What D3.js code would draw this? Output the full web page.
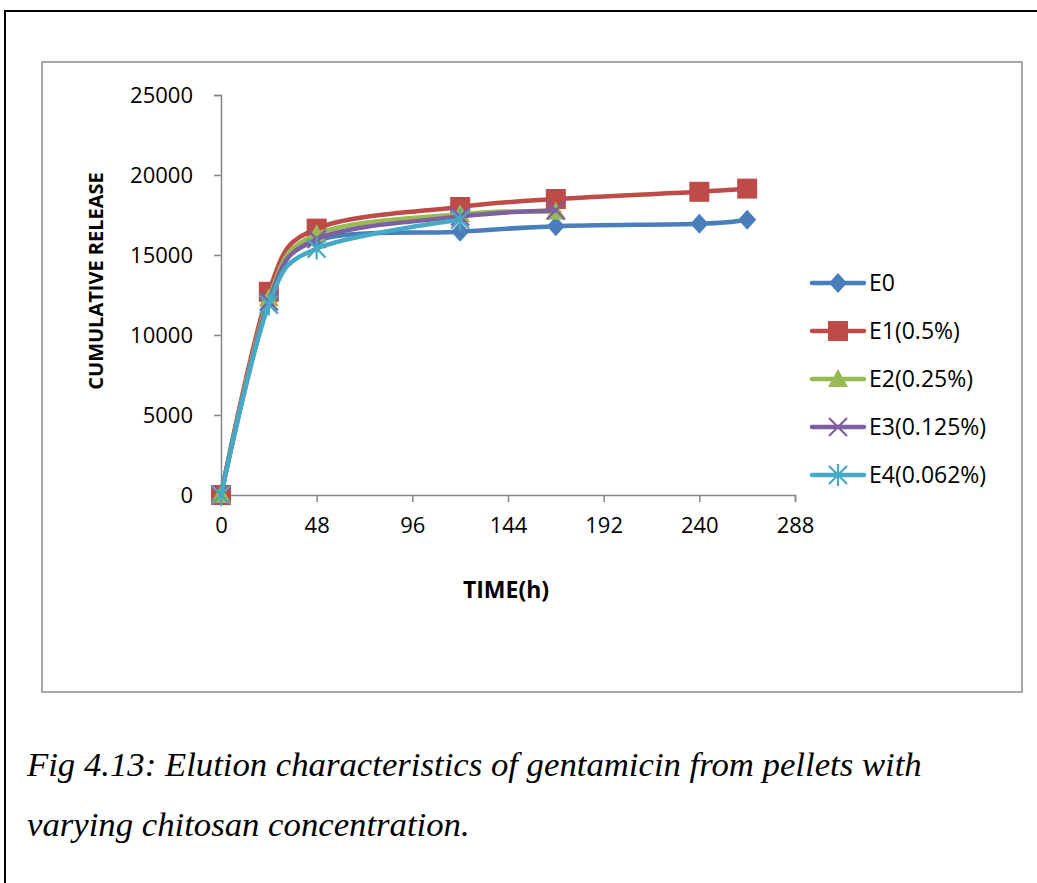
<!DOCTYPE html>
<html><head><meta charset="utf-8">
<script src="https://cdn.jsdelivr.net/npm/d3@7"></script>
<style>
html,body{margin:0;padding:0;background:#fff;}
svg{display:block;}
</style></head>
<body>
<svg id="chart" width="1037" height="883"></svg>
<script>
// ---- data ----
const seriesNames = ["E0", "E1(0.5%)", "E2(0.25%)", "E3(0.125%)", "E4(0.062%)"];
const timesE0 = [0, 24, 48, 120, 168, 240, 264];
const valuesE0 = [0, 12200, 15900, 16450, 16800, 16950, 17200];
const timesE1 = [0, 24, 48, 120, 168, 240, 264];
const valuesE1 = [0, 12700, 16650, 18000, 18500, 18950, 19150];
const timesE2 = [0, 24, 48, 120, 168];
const valuesE2 = [0, 12300, 16300, 17550, 17700];
const timesE3 = [0, 24, 48, 120, 168];
const valuesE3 = [0, 12100, 16000, 17400, 17800];
const timesE4 = [0, 24, 48, 120];
const valuesE4 = [0, 11900, 15400, 17200];
const xTicks = [0, 48, 96, 144, 192, 240, 288];
const yTicks = [0, 5000, 10000, 15000, 20000, 25000];
const colors = ["#4A7EBB", "#BE4B48", "#98B954", "#7D60A0", "#46AAC5"];
const markers = ["diamond", "square", "triangle", "x", "star"];
const xLabel = "TIME(h)";
const yLabel = "CUMULATIVE RELEASE";
const captionLines = ["Fig 4.13: Elution characteristics of gentamicin from pellets with",
                      "varying chitosan concentration."];

const series = [
  {t: timesE0, v: valuesE0}, {t: timesE1, v: valuesE1}, {t: timesE2, v: valuesE2},
  {t: timesE3, v: valuesE3}, {t: timesE4, v: valuesE4}
].map((s, i) => ({name: seriesNames[i], color: colors[i], marker: markers[i],
  pts: s.t.map((t, j) => ({t, v: s.v[j]}))}));

const svg = d3.select("#chart");
const font = "'Open Sans', 'Noto Sans', sans-serif";

// outer frame
svg.append("path").attr("d", "M5,900 L5,11 L1045,11")
  .attr("fill", "none").attr("stroke", "#000").attr("stroke-width", 2);
// chart box
svg.append("rect").attr("x", 42).attr("y", 62).attr("width", 980).attr("height", 630)
  .attr("fill", "#fff").attr("stroke", "#8c8c8c").attr("stroke-width", 1.5);

const x = d3.scaleLinear().domain([0, 288]).range([221, 795]);
const y = d3.scaleLinear().domain([0, 25000]).range([495, 95]);

// axes
const gx = svg.append("g").attr("transform", `translate(0,${y(0)})`)
  .call(d3.axisBottom(x).tickValues(xTicks).tickSize(7).tickPadding(15).tickFormat(d3.format("d")));
const gy = svg.append("g").attr("transform", `translate(${x(0)},0)`)
  .call(d3.axisLeft(y).tickValues(yTicks).tickSize(7).tickPadding(21).tickFormat(d3.format("d")));
[gx, gy].forEach(g => {
  g.select(".domain").attr("stroke", "#868686").attr("stroke-width", 1.5);
  g.selectAll(".tick line").attr("stroke", "#868686").attr("stroke-width", 1.5);
  g.selectAll(".tick text").attr("font-family", font).attr("font-size", 22).attr("fill", "#000");
});
gy.selectAll(".tick text").attr("dy", "0.36em");

// axis titles
svg.append("text").attr("x", 506).attr("y", 598).attr("text-anchor", "middle")
  .attr("font-family", font).attr("font-weight", "bold").attr("font-size", 23).text(xLabel);
svg.append("text").attr("transform", "translate(103,281) rotate(-90)").attr("text-anchor", "middle")
  .attr("font-family", font).attr("font-weight", "bold").attr("font-size", 20).text(yLabel);

// marker drawing
function drawMarker(g, type, color, cx, cy) {
  if (type === "diamond") {
    g.append("path").attr("d", `M${cx},${cy-10} L${cx+9},${cy} L${cx},${cy+10} L${cx-9},${cy} Z`)
      .attr("fill", color);
  } else if (type === "square") {
    g.append("rect").attr("x", cx-10).attr("y", cy-10).attr("width", 20).attr("height", 20).attr("fill", color);
  } else if (type === "triangle") {
    g.append("path").attr("d", `M${cx},${cy-10} L${cx+10},${cy+8} L${cx-10},${cy+8} Z`).attr("fill", color);
  } else if (type === "x") {
    g.append("path").attr("d", `M${cx-9},${cy-9} L${cx+9},${cy+9} M${cx+9},${cy-9} L${cx-9},${cy+9}`)
      .attr("stroke", color).attr("stroke-width", 2.2).attr("fill", "none");
  } else if (type === "star") {
    g.append("path").attr("d", `M${cx-9},${cy-9} L${cx+9},${cy+9} M${cx+9},${cy-9} L${cx-9},${cy+9} M${cx},${cy-11} L${cx},${cy+11}`)
      .attr("stroke", color).attr("stroke-width", 2.2).attr("fill", "none");
  }
}

const line = d3.line().x(d => x(d.t)).y(d => y(d.v)).curve(d3.curveCardinal.tension(0));
const plot = svg.append("g");
series.forEach(s => {
  const g = plot.append("g");
  g.append("path").datum(s.pts).attr("d", line).attr("fill", "none")
    .attr("stroke", s.color).attr("stroke-width", 4.5).attr("stroke-linecap", "round").attr("stroke-linejoin", "round");
  s.pts.forEach(p => drawMarker(g, s.marker, s.color, x(p.t), y(p.v)));
});

// legend
const leg = svg.append("g");
series.forEach((s, i) => {
  const ly = 283 + i * 48;
  leg.append("line").attr("x1", 812).attr("x2", 864).attr("y1", ly).attr("y2", ly)
    .attr("stroke", s.color).attr("stroke-width", 4.5).attr("stroke-linecap", "round");
  drawMarker(leg, s.marker, s.color, 838, ly);
  leg.append("text").attr("x", 869).attr("y", ly).attr("dy", "0.36em")
    .attr("font-family", font).attr("font-size", 23).text(s.name);
});

// caption (condensed serif italic, fitted to the reference line width)
const capFs = 34;
const cap = svg.append("g");
captionLines.forEach((t, i) => {
  cap.append("text").attr("x", 0).attr("y", i * 60)
    .attr("font-family", "'Liberation Serif', 'Times New Roman', serif").attr("font-style", "italic")
    .attr("font-size", capFs).text(t);
});
const w = cap.select("text").node().getComputedTextLength();
cap.attr("transform", `translate(27,776) scale(${895 / w},1)`);
</script>
</body></html>
